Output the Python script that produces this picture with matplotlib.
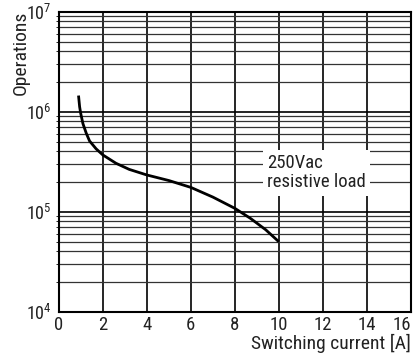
import matplotlib
matplotlib.use("Agg")
import matplotlib.pyplot as plt
from matplotlib.ticker import LogLocator, FixedLocator, NullFormatter

# curve
current = [0.9, 0.95, 1.0, 1.1, 1.25, 1.4, 1.7, 2.0, 2.6, 3.2, 4.0, 5.0, 6.0, 7.0, 8.0, 8.7, 9.4, 10.0]
operations = [1.45e6, 1.12e6, 9.6e5, 7.6e5, 6.1e5, 5.1e5, 4.25e5, 3.7e5, 3.05e5, 2.65e5, 2.33e5, 2.05e5,
              1.75e5, 1.4e5, 1.08e5, 8.6e4, 6.6e4, 5.0e4]
x_ticks = [0, 2, 4, 6, 8, 10, 12, 14, 16]
note = "250Vac\nresistive load"

plt.rcParams["font.family"] = ["Roboto Condensed", "DejaVu Sans"]
plt.rcParams["mathtext.fontset"] = "custom"
plt.rcParams["mathtext.rm"] = "Roboto Condensed"
plt.rcParams["mathtext.it"] = "Roboto Condensed"

fig = plt.figure(figsize=(4.14, 3.53), dpi=100)
ax = fig.add_axes([0.1418, 0.117, 0.8510, 0.8499])

ax.set_yscale("log")
ax.set_xlim(0, 16)
ax.set_ylim(1e4, 1e7)

ax.xaxis.set_major_locator(FixedLocator(x_ticks))
ax.yaxis.set_major_locator(LogLocator(base=10, numticks=10))
ax.yaxis.set_minor_locator(LogLocator(base=10, subs=range(2, 10), numticks=10))
ax.yaxis.set_minor_formatter(NullFormatter())

ax.grid(True, which="major", axis="both", color="black", lw=1.2)
ax.grid(True, which="minor", axis="y", color="#333333", lw=0.9)
ax.set_axisbelow(True)

ax.plot(current, operations, color="black", lw=2.0, solid_capstyle="butt", zorder=3)

ax.text(9.48, 2.45e5, note, fontsize=13.5, va="center", ha="left", linespacing=1.1,
        color="#222222", bbox=dict(facecolor="white", edgecolor="none", pad=3.0), zorder=4)

ax.tick_params(length=0, colors="#222222")
ax.tick_params(axis="x", pad=3, labelsize=13.5)
ax.tick_params(axis="y", pad=5, labelsize=13)
last = ax.get_xticklabels()[-1]
last.set_ha("right")

ax.set_xlabel("Switching current [A]", fontsize=14, loc="right", labelpad=0, color="#222222")
ax.set_ylabel("Operations", fontsize=14, loc="top", color="#222222")
ax.yaxis.set_label_coords(-0.083, 1.005)

for s in ax.spines.values():
    s.set_linewidth(1.5)
    s.set_color("black")

fig.savefig("out.png", dpi=100)
